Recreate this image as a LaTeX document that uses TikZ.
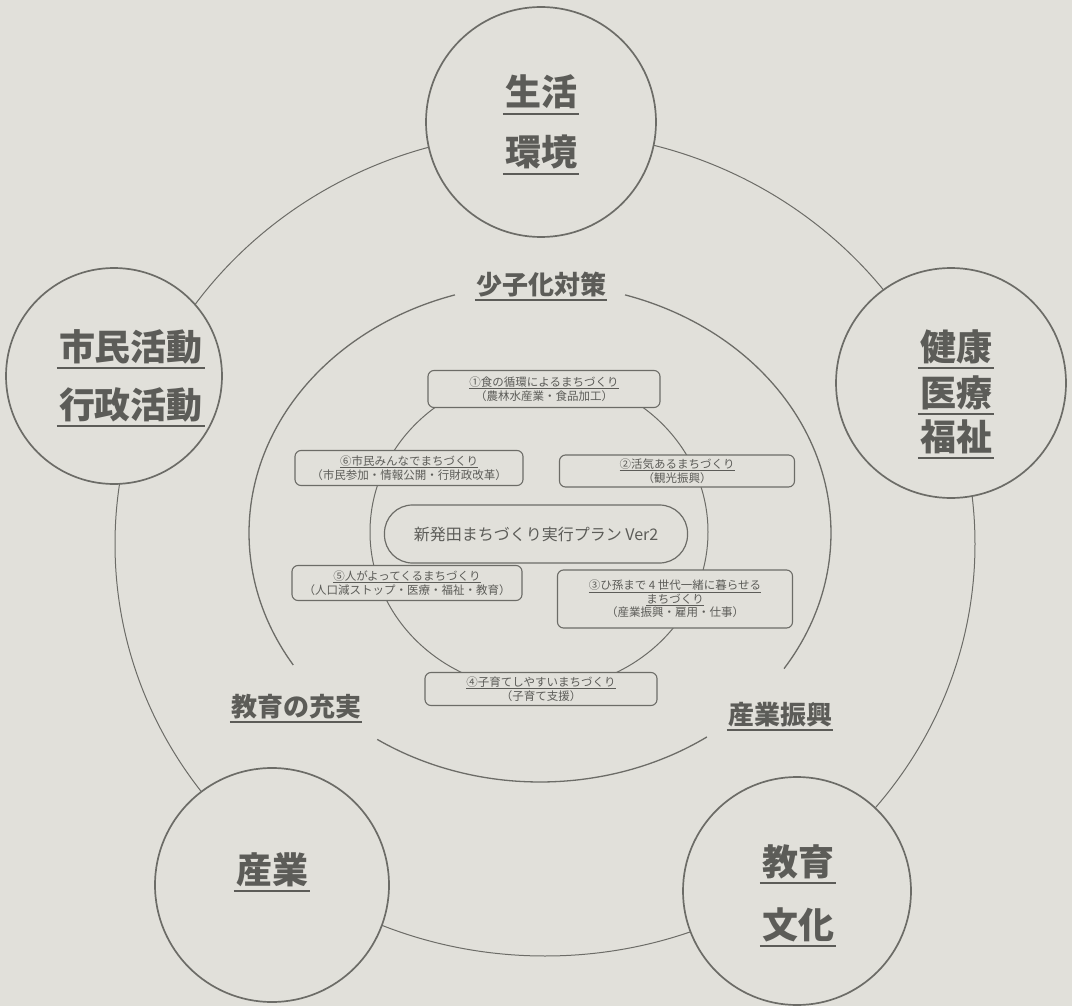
\documentclass[tikz,border=0pt]{standalone}
\usepackage{fontspec}
\setmainfont{Noto Sans CJK JP}
\definecolor{bg}{RGB}{225,224,218}
\definecolor{ink}{RGB}{92,92,88}
\definecolor{lin}{RGB}{108,108,103}
\newcommand\ulsm[1]{\vtop{\hbox{#1}\kern0.8pt\hrule height 0.7pt}}
\tikzset{
  ulline/.style={draw=ink, line width=2pt},
  biglbl/.style={font=\fontsize{36}{40}\selectfont\bfseries, text=ink, inner sep=0pt, anchor=base,
    append after command={([xshift=-2pt,yshift=-8pt]\tikzlastnode.base west) edge[ulline] ([xshift=2pt,yshift=-8pt]\tikzlastnode.base east)}},
  midlbl/.style={font=\fontsize{26}{30}\selectfont\bfseries, text=ink, inner sep=0pt, anchor=base,
    append after command={([xshift=-1pt,yshift=-6pt]\tikzlastnode.base west) edge[draw=ink, line width=1.6pt] ([xshift=1pt,yshift=-6pt]\tikzlastnode.base east)}},
  topic/.style={circle, draw=lin, line width=1.7pt, fill=bg, inner sep=0pt},
  planbox/.style={draw=lin, line width=1.1pt, fill=bg, rounded corners=6pt, inner sep=0pt,
    font=\fontsize{11.5}{13.5}\selectfont, text=ink, align=center},
  ring/.style={draw=lin, line width=1.3pt},
}
\begin{document}
\begin{tikzpicture}[x=1pt, y=-1pt]
\useasboundingbox (0,0) rectangle (1072,1006);
\fill[bg] (0,0) rectangle (1072,1006);
% outer ellipse
\draw[draw=lin, line width=1pt] (545,544) ellipse [x radius=430pt, y radius=412pt];
% middle ring with gaps
\draw[ring] plot[domain=107:212, samples=80] ({540+291*cos(\x)}, {533-249*sin(\x)});
\draw[ring] plot[domain=236:305, samples=60] ({540+291*cos(\x)}, {533-249*sin(\x)});
\draw[ring] plot[domain=-33:73, samples=80] ({540+291*cos(\x)}, {533-249*sin(\x)});
% inner circle
\draw[draw=lin, line width=1pt] (539,532) ellipse [x radius=169pt, y radius=158pt];
% topic circles
\node[topic, minimum size=230pt] (c1) at (541,122) {};
\node[topic, minimum size=216pt] (c2) at (114,376) {};
\node[topic, minimum size=230pt] (c3) at (951,383) {};
\node[topic, minimum size=234pt] (c4) at (272,885) {};
\node[topic, minimum size=228pt] (c5) at (797,891) {};
% topic labels
\node[biglbl] (t1a) at (541,106) {生活};
\node[biglbl] (t1b) at (541,166) {環境};
\node[biglbl] (t2a) at (131,360) {市民活動};
\node[biglbl] (t2b) at (131,418) {行政活動};
\node[biglbl] (t3a) at (956,360) {健康};
\node[biglbl] (t3b) at (956,406) {医療};
\node[biglbl] (t3c) at (956,450) {福祉};
\node[biglbl] (t4a) at (272,883) {産業};
\node[biglbl] (t5a) at (798,875) {教育};
\node[biglbl] (t5b) at (798,938) {文化};
% ring labels
\node[midlbl] (m1) at (541,294) {少子化対策};
\node[midlbl] (m2) at (296,716) {教育の充実};
\node[midlbl] (m3) at (780,724) {産業振興};
% plan boxes
\node[planbox, minimum width=232pt, minimum height=37pt] (p1) at (544,389)
  {\ulsm{①食の循環によるまちづくり}\\（農林水産業・食品加工）};
\node[planbox, minimum width=228pt, minimum height=35pt] (p6) at (409,468)
  {\ulsm{⑥市民みんなでまちづくり}\\（市民参加・情報公開・行財政改革）};
\node[planbox, minimum width=235pt, minimum height=32pt] (p2) at (677,471)
  {\ulsm{②活気あるまちづくり}\\（観光振興）};
\node[planbox, minimum width=230pt, minimum height=35pt] (p5) at (407,583)
  {\ulsm{⑤人がよってくるまちづくり}\\（人口減ストップ・医療・福祉・教育）};
\node[planbox, minimum width=235pt, minimum height=58pt] (p3) at (675,599)
  {\ulsm{③ひ孫まで 4 世代一緒に暮らせる}\\\ulsm{まちづくり}\\（産業振興・雇用・仕事）};
\node[planbox, minimum width=232pt, minimum height=33pt] (p4) at (541,689)
  {\ulsm{④子育てしやすいまちづくり}\\（子育て支援）};
\node[draw=lin, line width=1.2pt, fill=bg, rounded corners=28pt, minimum width=303pt, minimum height=58pt,
  inner sep=0pt, font=\fontsize{16}{18}\selectfont, text=ink] (plan) at (536,534) {新発田まちづくり実行プラン Ver2};
\end{tikzpicture}
\end{document}
